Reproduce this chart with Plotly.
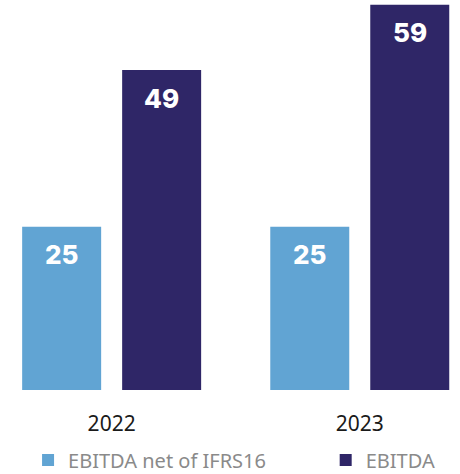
import plotly.graph_objects as go

years = ["2022", "2023"]
ebitda_net_ifrs16 = [25, 25]
ebitda = [49, 59]

series_names = ["EBITDA net of IFRS16", "EBITDA"]
series_colors = ["#61A4D3", "#2F2667"]
legend_ids = ["legend", "legend2"]

BARGAP = 0.194
BARGROUPGAP = 0.21
n_series = 2

fig = go.Figure()
annotations = []
slot = (1 - BARGAP) / n_series
for i, (name, values, color, lg) in enumerate(
        zip(series_names, [ebitda_net_ifrs16, ebitda], series_colors, legend_ids)):
    fig.add_trace(go.Bar(
        x=years,
        y=values,
        name=name,
        legend=lg,
        marker=dict(color=color, line=dict(width=0)),
    ))
    # value labels sit just under the top of each bar
    offset = -(1 - BARGAP) / 2 + slot * (i + 0.5)
    for k, v in enumerate(values):
        annotations.append(dict(
            x=k + offset, y=v, xref="x", yref="y",
            text=str(v), showarrow=False,
            yanchor="middle", yshift=-28,
            font=dict(family="Inter", size=26, color="white", weight=800),
        ))

legend_font = dict(family="Noto Sans", size=20, color="#8A8A8A")

fig.update_layout(
    width=460,
    height=474,
    margin=dict(l=0, r=0, t=0, b=84),
    paper_bgcolor="white",
    plot_bgcolor="white",
    barmode="group",
    bargap=BARGAP,
    bargroupgap=BARGROUPGAP,
    showlegend=True,
    legend=dict(
        orientation="h", x=0.061, xanchor="left",
        y=0.0295, yref="container", yanchor="middle",
        font=legend_font, itemclick=False, itemdoubleclick=False,
    ),
    legend2=dict(
        orientation="h", x=0.708, xanchor="left",
        y=0.0295, yref="container", yanchor="middle",
        font=legend_font, itemclick=False, itemdoubleclick=False,
    ),
    xaxis=dict(
        type="category",
        range=[-0.450, 1.404],
        showgrid=False,
        showline=False,
        zeroline=False,
        ticks="",
        tickfont=dict(family="Noto Sans", size=21, color="#1A1A1A"),
        ticklabelstandoff=19,
    ),
    yaxis=dict(
        range=[0, 59.72],
        visible=False,
        showgrid=False,
        zeroline=False,
    ),
    annotations=annotations,
)

fig.write_html("out.html")
